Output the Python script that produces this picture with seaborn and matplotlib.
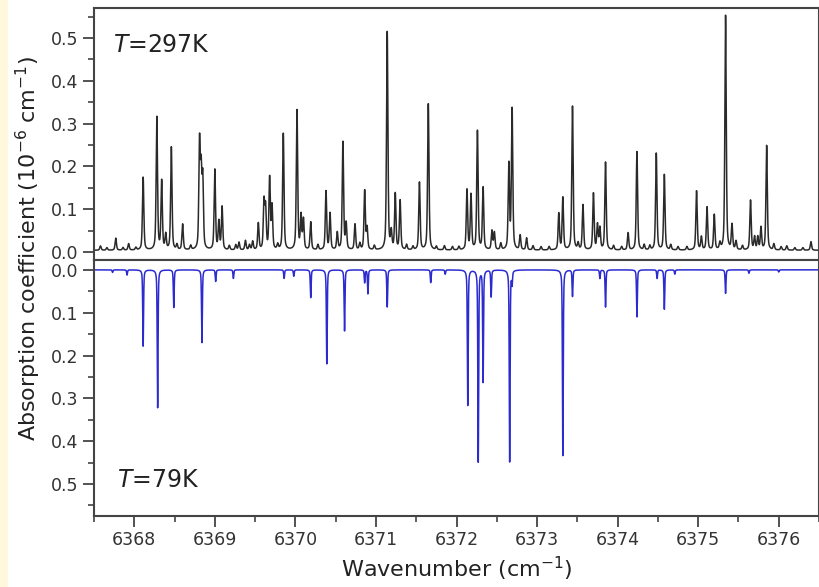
import matplotlib
matplotlib.use("Agg")
import matplotlib.pyplot as plt
import seaborn as sns
import numpy as np
import pandas as pd
from matplotlib.ticker import MultipleLocator

# line list: position (cm-1) and peak height (1e-6 cm-1)
room_pos = [6367.58, 6367.66, 6367.77, 6367.86, 6367.93, 6368.02, 6368.11, 6368.28,
            6368.34, 6368.39, 6368.46, 6368.53, 6368.60, 6368.70, 6368.81, 6368.83,
            6368.85, 6369.00, 6369.05, 6369.09, 6369.18, 6369.26, 6369.30, 6369.38,
            6369.43, 6369.47, 6369.54, 6369.61, 6369.63, 6369.68, 6369.71, 6369.78,
            6369.85, 6370.02, 6370.07, 6370.10, 6370.19, 6370.28, 6370.38, 6370.43,
            6370.52, 6370.59, 6370.63, 6370.74, 6370.80, 6370.86, 6370.89, 6370.98,
            6371.14, 6371.19, 6371.24, 6371.30, 6371.38, 6371.46, 6371.54, 6371.65,
            6371.75, 6371.85, 6371.95, 6372.03, 6372.13, 6372.18, 6372.26, 6372.33,
            6372.44, 6372.47, 6372.55, 6372.65, 6372.69, 6372.79, 6372.87, 6372.95,
            6373.05, 6373.15, 6373.27, 6373.32, 6373.44, 6373.51, 6373.57, 6373.70,
            6373.75, 6373.78, 6373.85, 6373.95, 6374.05, 6374.13, 6374.24, 6374.33,
            6374.40, 6374.48, 6374.58, 6374.66, 6374.75, 6374.86, 6374.98, 6375.04,
            6375.11, 6375.20, 6375.27, 6375.34, 6375.42, 6375.47, 6375.55, 6375.65,
            6375.70, 6375.74, 6375.78, 6375.85, 6375.94, 6376.03, 6376.10, 6376.20,
            6376.30, 6376.40]
room_hgt = [0.010, 0.006, 0.028, 0.006, 0.015, 0.006, 0.170, 0.310,
            0.160, 0.035, 0.240, 0.012, 0.060, 0.010, 0.245, 0.170,
            0.160, 0.187, 0.065, 0.100, 0.010, 0.012, 0.018, 0.022,
            0.012, 0.020, 0.062, 0.110, 0.095, 0.166, 0.100, 0.012,
            0.272, 0.326, 0.078, 0.070, 0.065, 0.012, 0.137, 0.085,
            0.040, 0.252, 0.060, 0.060, 0.015, 0.138, 0.050, 0.010,
            0.510, 0.040, 0.130, 0.115, 0.012, 0.008, 0.158, 0.342,
            0.008, 0.010, 0.008, 0.008, 0.140, 0.128, 0.278, 0.145,
            0.044, 0.040, 0.015, 0.198, 0.328, 0.034, 0.028, 0.010,
            0.008, 0.008, 0.085, 0.122, 0.336, 0.015, 0.105, 0.132,
            0.058, 0.050, 0.205, 0.010, 0.008, 0.040, 0.230, 0.012,
            0.010, 0.226, 0.176, 0.012, 0.008, 0.008, 0.138, 0.030,
            0.100, 0.082, 0.015, 0.548, 0.058, 0.020, 0.010, 0.116,
            0.030, 0.030, 0.052, 0.244, 0.014, 0.008, 0.010, 0.006,
            0.006, 0.020]

cold_pos = [6367.73, 6367.91, 6368.11, 6368.29, 6368.49, 6368.84, 6369.01, 6369.23,
            6369.86, 6369.98, 6370.19, 6370.39, 6370.61, 6370.86, 6370.90, 6371.14,
            6371.68, 6371.86, 6372.14, 6372.27, 6372.33, 6372.43, 6372.66, 6372.69,
            6373.32, 6373.44, 6373.78, 6373.85, 6374.24, 6374.49, 6374.58, 6374.71,
            6375.34, 6375.63, 6376.00]
cold_hgt = [0.006, 0.012, 0.178, 0.322, 0.088, 0.170, 0.027, 0.020,
            0.020, 0.015, 0.065, 0.220, 0.143, 0.030, 0.056, 0.087,
            0.030, 0.010, 0.318, 0.450, 0.262, 0.063, 0.450, 0.030,
            0.435, 0.062, 0.020, 0.087, 0.110, 0.020, 0.092, 0.010,
            0.055, 0.008, 0.005]

x_ticks = [6368, 6369, 6370, 6371, 6372, 6373, 6374, 6375, 6376]
y_ticks = [0.0, 0.1, 0.2, 0.3, 0.4, 0.5]


def spectrum(pos, hgt, hwhm, wn):
    # pseudo-Voigt line shape for each line in the list
    pos = np.asarray(pos)[:, None]
    hgt = np.asarray(hgt)[:, None]
    lor = hwhm**2 / ((wn - pos) ** 2 + hwhm**2)
    gau = np.exp(-np.log(2) * ((wn - pos) / hwhm) ** 2)
    return (hgt * (0.5 * lor + 0.5 * gau)).sum(axis=0)


sns.set_style("ticks")
plt.rcParams['font.family'] = ['DejaVu Sans']

wn = np.linspace(6367.5, 6376.5, 9000)
df_room = pd.DataFrame({"wn": wn, "a": spectrum(room_pos, room_hgt, 0.010, wn) + 0.004})
df_cold = pd.DataFrame({"wn": wn, "a": spectrum(cold_pos, cold_hgt, 0.006, wn)})

fig = plt.figure(figsize=(8.2, 5.87), dpi=100)
fig.patches.append(plt.Rectangle((0, 0), 7 / 820, 1, transform=fig.transFigure,
                                 color='#fff8dc', zorder=0))
left, right = 94 / 820, 819 / 820
ax1 = fig.add_axes([left, 1 - 260 / 587, right - left, (260 - 8) / 587])
ax2 = fig.add_axes([left, 1 - 515.5 / 587, right - left, (515.5 - 260) / 587], sharex=ax1)

sns.lineplot(data=df_room, x="wn", y="a", ax=ax1, color='#2a2a2a', linewidth=1.1,
             estimator=None)
sns.lineplot(data=df_cold, x="wn", y="a", ax=ax2, color='#2b2bd0', linewidth=1.1,
             estimator=None)

ax1.set_xlim(6367.5, 6376.5)
ax1.set_ylim(-0.0187, 0.570)
ax2.set_ylim(0.5736, -0.023)

for ax in (ax1, ax2):
    ax.set_yticks(y_ticks)
    ax.yaxis.set_minor_locator(MultipleLocator(0.05))
    ax.set_yticklabels(["%.1f" % v for v in y_ticks])
    ax.set_xlabel("")
    ax.set_ylabel("")
    for s in ax.spines.values():
        s.set_visible(True)
        s.set_color('#444444')
        s.set_linewidth(1.5)
    ax.tick_params(axis='both', which='major', direction='out', length=8, width=1.3,
                   colors='#444444', labelcolor='#333333', labelsize=12.5)
    ax.tick_params(axis='both', which='minor', direction='out', length=4.5, width=1.2,
                   colors='#444444')

ax1.tick_params(axis='x', which='both', bottom=False, labelbottom=False)
ax2.set_xticks(x_ticks)
ax2.set_xticklabels([str(v) for v in x_ticks])
ax2.xaxis.set_minor_locator(MultipleLocator(0.5))

ax1.text(6367.74, 0.484, r"$\mathit{T}$=297K", fontsize=17, color='#222222', va='center')
ax2.text(6367.78, 0.49, r"$\mathit{T}$=79K", fontsize=17, color='#222222', va='center')

ax2.set_xlabel(r"Wavenumber (cm$^{-1}$)", fontsize=16, color='#222222', labelpad=4)
fig.text(28 / 820, 1 - 248 / 587, r"Absorption coefficient (10$^{-6}$ cm$^{-1}$)",
         rotation=90, fontsize=16, color='#222222', ha='center', va='center')

fig.savefig("out.png", dpi=100)
